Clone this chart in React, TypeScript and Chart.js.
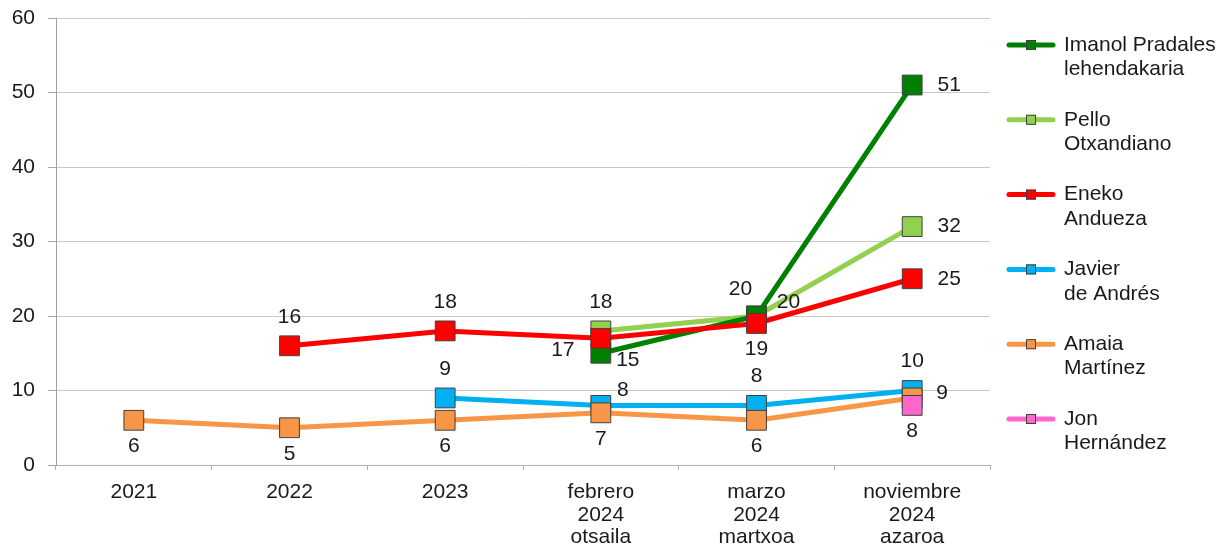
import React, { useEffect, useRef } from "react";
import { Chart, registerables } from "chart.js";

Chart.register(...registerables);

// ---------- data ----------
const categories: string[][] = [
  ["2021"],
  ["2022"],
  ["2023"],
  ["febrero", "2024", "otsaila"],
  ["marzo", "2024", "martxoa"],
  ["noviembre", "2024", "azaroa"],
];

const seriesNames: string[][] = [
  ["Imanol Pradales", "lehendakaria"],
  ["Pello", "Otxandiano"],
  ["Eneko", "Andueza"],
  ["Javier", "de Andrés"],
  ["Amaia", "Martínez"],
  ["Jon", "Hernández"],
];

const imanolValues = [null, null, null, 15, 20, 51];
const pelloValues = [null, null, null, 18, 20, 32];
const enekoValues = [null, 16, 18, 17, 19, 25];
const javierValues = [null, null, 9, 8, 8, 10];
const amaiaValues = [6, 5, 6, 7, 6, 9];
const jonValues = [null, null, null, null, null, 8];

const yTickValues = [0, 10, 20, 30, 40, 50, 60];

// label placement codes per point (null = no label)
const imanolLabels = [null, null, null, "rb", "al", "r"];
const pelloLabels = [null, null, null, "a", "ar", "r"];
const enekoLabels = [null, "a", "a", "l", "b", "r"];
const javierLabels = [null, null, "a", "ra", "a", "a"];
const amaiaLabels = ["b", "b", "b", "b", "b", "r1"];
const jonLabels = [null, null, null, null, null, "b"];

// ---------- styles ----------
const FONT = '"Liberation Sans", Arial, sans-serif';
const FONT_SIZE = 21;
const TEXT = "#1a1a1a";
const colors = ["#008000", "#92d050", "#ff0000", "#00b0f0", "#f79646", "#ff66cc"];
// drawing order: lower = on top
const drawOrder = [4, 5, 3, 2, 1, 0];

const labelOffsets: Record<string, [number, number]> = {
  a: [0, -29],
  b: [0, 26],
  r: [37, 0],
  r1: [30, -5],
  l: [-38, 12],
  rb: [27, 7],
  ra: [22, -15],
  al: [-16, -27],
  ar: [32, -14],
};

const allValues = [imanolValues, pelloValues, enekoValues, javierValues, amaiaValues, jonValues];
const allLabels = [imanolLabels, pelloLabels, enekoLabels, javierLabels, amaiaLabels, jonLabels];

const dataLabelPlugin = {
  id: "dataLabels",
  afterDatasetsDraw(chart: any) {
    const ctx = chart.ctx;
    ctx.save();
    ctx.font = `${FONT_SIZE}px ${FONT}`;
    ctx.fillStyle = TEXT;
    ctx.textAlign = "center";
    ctx.textBaseline = "middle";
    allLabels.forEach((codes, di) => {
      const meta = chart.getDatasetMeta(di);
      codes.forEach((code, i) => {
        if (!code) return;
        const v = allValues[di][i];
        const pt = meta.data[i];
        if (v == null || !pt) return;
        const [dx, dy] = labelOffsets[code];
        ctx.fillText(String(v), pt.x + dx, pt.y + dy);
      });
    });
    ctx.restore();
  },
};

const legendPlugin = {
  id: "customLegend",
  afterDraw(chart: any) {
    const ctx = chart.ctx;
    const x0 = chart.chartArea.right + 18;
    ctx.save();
    seriesNames.forEach((lines, i) => {
      const y = 45 + i * 74.8;
      ctx.strokeStyle = colors[i];
      ctx.lineWidth = 5;
      ctx.lineCap = "round";
      ctx.beginPath();
      ctx.moveTo(x0 + 1, y);
      ctx.lineTo(x0 + 45, y);
      ctx.stroke();
      ctx.fillStyle = colors[i];
      ctx.fillRect(x0 + 18, y - 5, 10, 10);
      ctx.strokeStyle = "#404040";
      ctx.lineWidth = 1;
      ctx.strokeRect(x0 + 18.5, y - 4.5, 9, 9);
      ctx.fillStyle = TEXT;
      ctx.font = `${FONT_SIZE}px ${FONT}`;
      ctx.textAlign = "left";
      ctx.textBaseline = "middle";
      lines.forEach((t, li) => ctx.fillText(t, x0 + 56, y + li * 24.5));
    });
    ctx.restore();
  },
};

export default function App() {
  const canvasRef = useRef<HTMLCanvasElement | null>(null);

  useEffect(() => {
    if (!canvasRef.current) return;
    const chart = new Chart(canvasRef.current, {
      type: "line",
      data: {
        labels: categories,
        datasets: allValues.map((vals, i) => ({
          label: seriesNames[i].join(" "),
          data: vals,
          borderColor: colors[i],
          backgroundColor: colors[i],
          borderWidth: 5,
          pointStyle: "rect",
          pointRadius: 14,
          pointHoverRadius: 14,
          pointBackgroundColor: colors[i],
          pointBorderColor: "#404040",
          pointBorderWidth: 1,
          tension: 0,
          order: drawOrder[i],
          clip: false,
          fill: false,
        })),
      },
      options: {
        responsive: true,
        maintainAspectRatio: false,
        animation: false,
        events: [],
        layout: { padding: { left: 0, top: 18, right: 239, bottom: 0 } },
        plugins: {
          legend: { display: false },
          tooltip: { enabled: false },
        },
        scales: {
          x: {
            type: "category",
            offset: true,
            grid: {
              offset: true,
              drawOnChartArea: false,
              drawTicks: true,
              tickLength: 5,
              color: "#b0b0b0",
            },
            border: { color: "#b0b0b0" },
            ticks: {
              font: { family: FONT, size: FONT_SIZE, lineHeight: 1.07 },
              color: TEXT,
              padding: 11,
              maxRotation: 0,
              autoSkip: false,
            },
            afterFit: (s: any) => {
              s.height = 87;
              s.paddingLeft = 0;
              s.paddingRight = 0;
            },
          },
          y: {
            min: 0,
            max: 60,
            afterBuildTicks: (s: any) => {
              s.ticks = yTickValues.map((v) => ({ value: v }));
            },
            ticks: {
              font: { family: FONT, size: FONT_SIZE },
              color: TEXT,
              padding: 13,
            },
            grid: { color: "#c8c8c8", tickLength: 8, tickColor: "#a6a6a6" },
            border: { color: "#a0a0a0" },
            afterFit: (s: any) => {
              s.width = 56;
              s.paddingTop = 0;
              s.paddingBottom = 0;
            },
          },
        },
      },
      plugins: [dataLabelPlugin, legendPlugin],
    } as any);
    return () => chart.destroy();
  }, []);

  return (
    <div style={{ position: "absolute", left: 0, top: 0, width: 1229, height: 552, background: "#fff" }}>
      <canvas ref={canvasRef} />
    </div>
  );
}
